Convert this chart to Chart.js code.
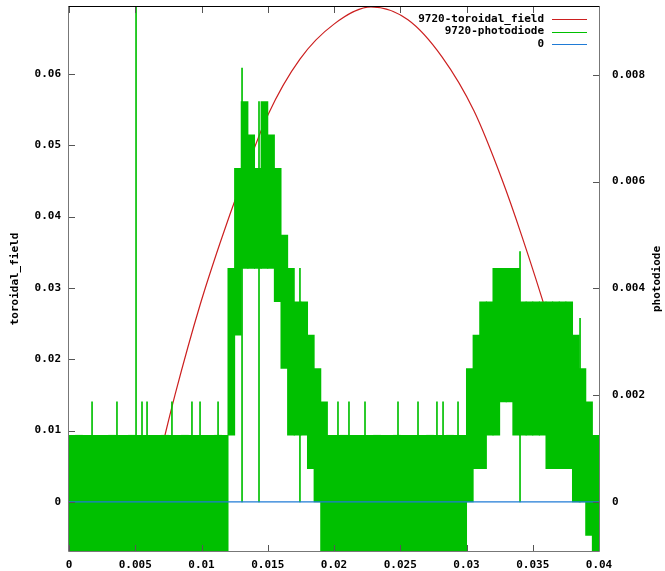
<!DOCTYPE html>
<html>
<head>
<meta charset="utf-8">
<script src="https://cdn.jsdelivr.net/npm/chart.js@4/dist/chart.umd.min.js"></script>
<style>
  html, body { margin: 0; padding: 0; background: #fff; }
</style>
</head>
<body>
<canvas id="shotChart" width="665" height="571"></canvas>
<script>
// shot 9720 - toroidal field (left axis) and photodiode (right axis)
const timeTicks = [0, 0.005, 0.01, 0.015, 0.02, 0.025, 0.03, 0.035, 0.04]
const timeTickLabels = ['0', '0.005', '0.01', '0.015', '0.02', '0.025', '0.03', '0.035', '0.04']
const fieldTicks = [0, 0.01, 0.02, 0.03, 0.04, 0.05, 0.06]
const fieldTickLabels = ['0', '0.01', '0.02', '0.03', '0.04', '0.05', '0.06']
const diodeTicks = [0, 0.002, 0.004, 0.006, 0.008]
const diodeTickLabels = ['0', '0.002', '0.004', '0.006', '0.008']

const fieldRange = [-0.0069, 0.0694]
const diodeRange = [-0.000918, 0.00927]

// toroidal field
const fieldTime = [0, 0.00196, 0.00294, 0.0040, 0.00468, 0.00521, 0.00543, 0.00611, 0.00725, 0.0080,
    0.00989, 0.0114, 0.0129, 0.01502, 0.01743, 0.0200, 0.02279, 0.02558, 0.02815, 0.03057,
    0.03268, 0.03419, 0.03615, 0.03758, 0.03834, 0.03947, 0.04]
const fieldValues = [-0.0012, -0.0030, -0.0046, -0.0065, -0.0069, -0.0067, -0.0049, 0.0005, 0.0094, 0.0150,
    0.0276, 0.0363, 0.0442, 0.0543, 0.0621, 0.0670, 0.0694, 0.0676, 0.0624, 0.0548,
    0.0452, 0.0372, 0.0258, 0.0165, 0.0110, 0.0015, -0.0020]

// photodiode: min / max of the noisy trace per 0.5 ms bin, in ADC steps
const diodeBinWidth = 0.0005
const diodeStep = 0.000625
const diodeLow = [
    -1.5, -1.5, -1.5, -1.5, -1.5, -1.5, -1.5, -1.5, -1.5, -1.5,
    -1.5, -1.5, -1.5, -1.5, -1.5, -1.5, -1.5, -1.5, -1.5, -1.5,
    -1.5, -1.5, -1.5, -1.5, 2, 5, 7, 7, 7, 7,
    7, 6, 4, 2, 2, 2, 1, 0, -1.5, -1.5,
    -1.5, -1.5, -1.5, -1.5, -1.5, -1.5, -1.5, -1.5, -1.5, -1.5,
    -1.5, -1.5, -1.5, -1.5, -1.5, -1.5, -1.5, -1.5, -1.5, -1.5,
    0, 1, 1, 2, 2, 3, 3, 2, 2, 2,
    2, 2, 1, 1, 1, 1, 0, 0, -1, -1.5
]
const diodeHigh = [
    2, 2, 2, 2, 2, 2, 2, 2, 2, 2,
    2, 2, 2, 2, 2, 2, 2, 2, 2, 2,
    2, 2, 2, 2, 7, 10, 12, 11, 10, 12,
    11, 10, 8, 7, 6, 6, 5, 4, 3, 2,
    2, 2, 2, 2, 2, 2, 2, 2, 2, 2,
    2, 2, 2, 2, 2, 2, 2, 2, 2, 2,
    4, 5, 6, 6, 7, 7, 7, 7, 6, 6,
    6, 6, 6, 6, 6, 6, 5, 4, 3, 2
]
// single samples that stick out of the band
const spikeTime = [0.00174, 0.00362, 0.00506, 0.00551, 0.00589, 0.00777, 0.00928, 0.00989, 0.01125, 0.01306,
    0.01434, 0.01743, 0.0203, 0.02113, 0.02234, 0.02483, 0.02634, 0.02777, 0.02823, 0.02936,
    0.03404, 0.03857]
const spikeHigh = [3, 3, 15, 3, 3, 3, 3, 3, 3, 13,
    12, 7, 3, 3, 3, 3, 3, 3, 3, 3,
    7.5, 5.5]

const labelFont = {family: 'DejaVu Sans Mono', size: 11, weight: 'bold'}
const fontCss = 'bold 11px "DejaVu Sans Mono"'
const red = '#cc1f1f'
const green = '#00c000'
const blue = '#1f7bd6'

let ctx = document.getElementById('shotChart')

// keep Chart.js from adding label padding around the plot
let fixBox = (scale, size) => {
    if (scale.isHorizontal()) scale.height = size
    else scale.width = size
    scale.paddingTop = 0
    scale.paddingBottom = 0
    scale.paddingLeft = 0
    scale.paddingRight = 0
}

// gnuplot style frame: inward ticks, border, legend and axis titles
const gnuplotFrame = {
    id: 'gnuplotFrame',
    afterDraw(chart) {
        let c = chart.ctx
        let a = chart.chartArea
        let s = chart.scales
        c.save()
        c.strokeStyle = '#555'
        c.lineWidth = 1
        c.beginPath()
        timeTicks.forEach(v => {
            let px = Math.round(s.x.getPixelForValue(v)) + 0.5
            c.moveTo(px, a.bottom); c.lineTo(px, a.bottom - 6)
            c.moveTo(px, a.top); c.lineTo(px, a.top + 6)
        })
        fieldTicks.forEach(v => {
            let py = Math.round(s.y.getPixelForValue(v)) + 0.5
            c.moveTo(a.left, py); c.lineTo(a.left + 6, py)
        })
        diodeTicks.forEach(v => {
            let py = Math.round(s.y2.getPixelForValue(v)) + 0.5
            c.moveTo(a.right, py); c.lineTo(a.right - 6, py)
        })
        c.stroke()

        // border
        c.strokeStyle = '#777'
        c.beginPath()
        c.moveTo(a.left - 0.5, a.top - 0.5)
        c.lineTo(a.left - 0.5, a.bottom + 0.5)
        c.lineTo(a.right + 0.5, a.bottom + 0.5)
        c.lineTo(a.right + 0.5, a.top - 0.5)
        c.stroke()
        c.strokeStyle = '#000'
        c.beginPath()
        c.moveTo(a.left - 0.5, a.top - 0.5)
        c.lineTo(a.right + 0.5, a.top - 0.5)
        c.stroke()

        // legend
        c.font = fontCss
        c.fillStyle = '#000'
        c.textAlign = 'right'
        c.textBaseline = 'middle'
        let entries = [['9720-toroidal_field', red], ['9720-photodiode', green], ['0', blue]]
        entries.forEach((e, i) => {
            let ly = 19 + i * 12.5
            c.fillText(e[0], 544, ly)
            c.strokeStyle = e[1]
            c.lineWidth = 1.2
            c.beginPath()
            c.moveTo(552, Math.round(ly) + 0.5)
            c.lineTo(587, Math.round(ly) + 0.5)
            c.stroke()
        })

        // axis titles, both read bottom to top
        c.textAlign = 'center'
        let midY = (a.top + a.bottom) / 2
        c.save()
        c.translate(15, midY)
        c.rotate(-Math.PI / 2)
        c.fillText('toroidal_field', 0, 0)
        c.restore()
        c.save()
        c.translate(657, midY)
        c.rotate(-Math.PI / 2)
        c.fillText('photodiode', 0, 0)
        c.restore()
        c.restore()
    }
}

let chart = new Chart(ctx, {
    type: 'line',
    data: {
        datasets: [
            {
                type: 'line',
                label: '0',
                data: [{x: 0, y: 0}, {x: 0.04, y: 0}],
                yAxisID: 'y',
                borderColor: blue,
                borderWidth: 1.2,
                pointRadius: 0,
                order: 0
            },
            {
                type: 'bar',
                label: 'spikes',
                data: spikeTime.map((t, i) => ({x: t, y: [0, spikeHigh[i] * diodeStep]})),
                yAxisID: 'y2',
                backgroundColor: green,
                borderWidth: 0,
                barThickness: 1,
                grouped: false,
                order: 1
            },
            {
                type: 'bar',
                label: '9720-photodiode',
                data: diodeLow.map((lo, i) => ({
                    x: (i + 0.5) * diodeBinWidth,
                    y: [lo * diodeStep, diodeHigh[i] * diodeStep]
                })),
                yAxisID: 'y2',
                backgroundColor: green,
                borderWidth: 0,
                barThickness: 7,
                grouped: false,
                order: 2
            },
            {
                type: 'line',
                label: '9720-toroidal_field',
                data: fieldTime.map((t, i) => ({x: t, y: fieldValues[i]})),
                yAxisID: 'y',
                borderColor: red,
                borderWidth: 1.2,
                pointRadius: 0,
                cubicInterpolationMode: 'monotone',
                order: 3
            }
        ]
    },
    options: {
        responsive: false,
        animation: false,
        events: [],
        layout: {autoPadding: false, padding: {top: 7, left: 0, right: 0, bottom: 0}},
        plugins: {
            legend: {display: false},
            tooltip: {enabled: false}
        },
        scales: {
            x: {
                type: 'linear',
                min: 0,
                max: 0.04,
                offset: false,
                afterBuildTicks: scale => { scale.ticks = timeTicks.map(v => ({value: v})) },
                afterFit: scale => fixBox(scale, 20),
                grid: {display: false, drawTicks: false},
                border: {display: false},
                ticks: {
                    callback: (v, i) => timeTickLabels[i],
                    padding: 8,
                    maxRotation: 0,
                    autoSkip: false,
                    font: labelFont,
                    color: '#000'
                }
            },
            y: {
                type: 'linear',
                position: 'left',
                min: fieldRange[0],
                max: fieldRange[1],
                afterBuildTicks: scale => { scale.ticks = fieldTicks.map(v => ({value: v})) },
                afterFit: scale => fixBox(scale, 69),
                grid: {display: false, drawTicks: false},
                border: {display: false},
                ticks: {
                    callback: (v, i) => fieldTickLabels[i],
                    padding: 8,
                    autoSkip: false,
                    font: labelFont,
                    color: '#000'
                }
            },
            y2: {
                type: 'linear',
                position: 'right',
                min: diodeRange[0],
                max: diodeRange[1],
                afterBuildTicks: scale => { scale.ticks = diodeTicks.map(v => ({value: v})) },
                afterFit: scale => fixBox(scale, 66),
                grid: {display: false, drawTicks: false},
                border: {display: false},
                ticks: {
                    callback: (v, i) => diodeTickLabels[i],
                    padding: 13,
                    autoSkip: false,
                    font: labelFont,
                    color: '#000'
                }
            }
        }
    },
    plugins: [gnuplotFrame]
})
</script>
</body>
</html>
